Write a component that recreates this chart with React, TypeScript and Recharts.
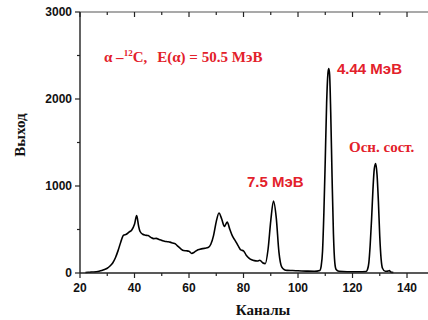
import { Line, LineChart, XAxis, YAxis } from "recharts";

// spectrum (channel -> yield)
const channels = [
  22, 23, 24, 25, 26, 27, 28, 29, 30, 31, 32, 33, 34, 35, 36, 37, 38, 39, 40,
  40.8, 41.5, 42, 43, 44, 45, 46, 47, 48, 49, 50, 51, 52, 53, 54, 55, 56, 57,
  58, 59, 60, 61, 62, 63, 64, 65, 66, 67, 68, 69, 70, 71, 72, 73, 74, 75, 76,
  77, 78, 79, 80, 81, 82, 83, 84, 85, 86, 87, 88, 89, 90, 91, 92, 93, 94, 95,
  96, 98, 100, 103, 106, 108, 108.5, 109, 109.5, 110, 110.5, 111, 111.3, 111.6,
  112, 112.5, 113, 113.5, 114, 115, 118, 122, 125, 125.5, 126, 126.5, 127,
  127.5, 128, 128.5, 129, 129.5, 130, 130.5, 131, 132, 133, 133.5, 134, 135,
];
const counts = [
  5, 8, 10, 12, 15, 20, 28, 40, 55, 80, 115, 175, 260, 360, 435, 445, 470, 495,
  560, 660, 540, 480, 445, 435, 430, 410, 395, 398, 385, 375, 365, 360, 355,
  345, 335, 305, 278, 258, 255, 250, 225, 240, 262, 272, 280, 285, 292, 330,
  430, 590, 690, 620, 535, 585, 500, 420, 370, 315, 265, 255, 205, 172, 152,
  142, 138, 146, 118, 108, 270, 600, 828, 640, 240, 70, 38, 30, 28, 25, 22, 20,
  30, 80, 250, 700, 1300, 1950, 2300, 2350, 2280, 1850, 1100, 450, 120, 40, 20,
  15, 15, 18, 40, 120, 330, 620, 960, 1200, 1257, 1130, 820, 420, 160, 55, 20,
  22, 28, 12, 5,
];

const xTicks = [20, 30, 40, 50, 60, 70, 80, 90, 100, 110, 120, 130, 140];
const xLabelled = [20, 40, 60, 80, 100, 120, 140];
const yTicks = [0, 500, 1000, 1500, 2000, 2500, 3000];
const yLabelled = [0, 1000, 2000, 3000];

const X_MIN = 20;
const X_MAX = 147.7;
const PLOT_LEFT = 80;
const PLOT_TOP = 12;
const PLOT_W = 428 - PLOT_LEFT;

const data = channels.map((ch, i) => ({ ch, y: counts[i] }));

const RED = "#e3212b";
const AXIS = "#222";
const SANS = "'Liberation Sans', Arial, sans-serif";
const SERIF = "'Liberation Serif', 'Times New Roman', serif";

// same mapping as the chart's x scale, used for the top frame ticks
const xPx = (t: number) => PLOT_LEFT + ((t - X_MIN) / (X_MAX - X_MIN)) * PLOT_W;

function BottomTick({ x, y, payload }: any) {
  const major = xLabelled.includes(payload.value);
  return (
    <g>
      <line x1={x} x2={x} y1={y} y2={y + (major ? 5 : 3)} stroke={AXIS} strokeWidth={1.2} />
      {major && (
        <text x={x} y={y + 19} textAnchor="middle" fontFamily={SANS} fontWeight="bold" fontSize={12} fill="#111">
          {payload.value}
        </text>
      )}
    </g>
  );
}

function LeftTick({ x, y, payload }: any) {
  const major = yLabelled.includes(payload.value);
  return (
    <g>
      <line x1={x} x2={x - (major ? 5 : 3)} y1={y} y2={y} stroke={AXIS} strokeWidth={1.2} />
      {major && (
        <text x={x - 8} y={y + 4} textAnchor="end" fontFamily={SANS} fontWeight="bold" fontSize={12} fill="#111">
          {payload.value}
        </text>
      )}
    </g>
  );
}

export default function App() {
  return (
    <div style={{ position: "relative", width: 428, height: 320, background: "#fff" }}>
      <style>{`body{margin:0}`}</style>
      <LineChart width={428} height={320} data={data} margin={{ top: PLOT_TOP, right: 0, bottom: 0, left: 0 }}>
        <XAxis
          dataKey="ch"
          type="number"
          domain={[X_MIN, X_MAX]}
          ticks={xTicks}
          allowDataOverflow
          height={47}
          tickSize={0}
          tickMargin={0}
          tickLine={false}
          tick={<BottomTick />}
          axisLine={{ stroke: AXIS, strokeWidth: 1.4 }}
          interval={0}
        />
        <YAxis
          type="number"
          domain={[0, 3000]}
          ticks={yTicks}
          width={PLOT_LEFT}
          tickSize={0}
          tickMargin={0}
          tickLine={false}
          tick={<LeftTick />}
          axisLine={{ stroke: AXIS, strokeWidth: 1.4 }}
          interval={0}
        />
        <Line
          dataKey="y"
          type="monotone"
          stroke="#000"
          strokeWidth={1.6}
          dot={false}
          isAnimationActive={false}
        />
      </LineChart>
      <svg width={428} height={320} style={{ position: "absolute", left: 0, top: 0, pointerEvents: "none" }}>
        {/* top frame with inward ticks */}
        <line x1={PLOT_LEFT} x2={428} y1={PLOT_TOP} y2={PLOT_TOP} stroke="#555" strokeWidth={1.2} />
        {xTicks.map((t) => (
          <line
            key={t}
            x1={xPx(t)}
            x2={xPx(t)}
            y1={PLOT_TOP}
            y2={PLOT_TOP + (xLabelled.includes(t) ? 5 : 3)}
            stroke={AXIS}
            strokeWidth={1.2}
          />
        ))}
        <text x={104} y={62} fontFamily={SERIF} fontWeight="bold" fontSize={15} fill={RED}>
          α –<tspan fontSize={9} dy={-6}>12</tspan>
          <tspan dy={6}>C,</tspan>
          <tspan dx={10}>E(α) = 50.5 МэВ</tspan>
        </text>
        <text x={337} y={74} fontFamily={SANS} fontWeight="bold" fontSize={15} fill={RED}>
          4.44 МэВ
        </text>
        <text x={349} y={152} fontFamily={SERIF} fontWeight="bold" fontSize={15} fill={RED}>
          Осн. сост.
        </text>
        <text x={247} y={187} fontFamily={SANS} fontWeight="bold" fontSize={15} fill={RED}>
          7.5 МэВ
        </text>
        <text x={263} y={315} textAnchor="middle" fontFamily={SERIF} fontWeight="bold" fontSize={15} fill="#111">
          Каналы
        </text>
        <text
          x={20}
          y={135}
          textAnchor="middle"
          transform="rotate(-90 20 135)"
          dy={5}
          fontFamily={SERIF}
          fontWeight="bold"
          fontSize={15}
          fill="#111"
        >
          Выход
        </text>
      </svg>
    </div>
  );
}
